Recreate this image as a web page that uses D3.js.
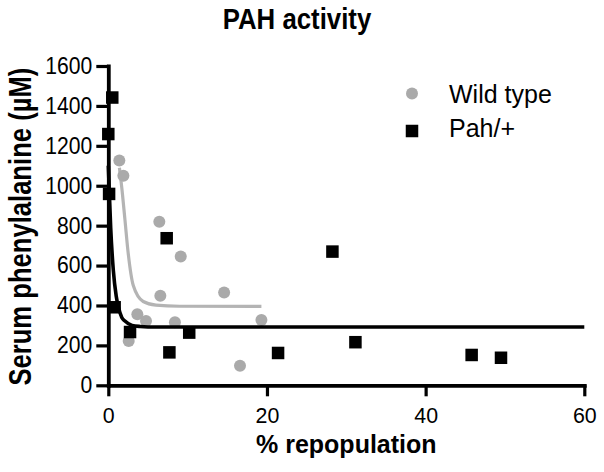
<!DOCTYPE html>
<html>
<head>
<meta charset="utf-8">
<script src="https://cdn.jsdelivr.net/npm/d3@7"></script>
<style>
  html, body { margin: 0; padding: 0; background: #fff; }
  svg { display: block; }
  text { font-family: "Liberation Sans", Arial, Helvetica, sans-serif; fill: #000; }
</style>
</head>
<body>
<svg id="chart" width="604" height="472"></svg>
<script>
// ---- data ----
const title = "PAH activity";
const xLabel = "% repopulation";
const yLabel = "Serum phenylalanine (\u00B5M)";
const seriesNames = ["Wild type", "Pah/+"];

const xTicks = [0, 20, 40, 60];
const yTicks = [0, 200, 400, 600, 800, 1000, 1200, 1400, 1600];

// Wild type (grey circles): % repopulation
const wtX = [1.39, 1.9, 6.43, 9.13, 6.56, 14.6, 3.66, 4.75, 8.4, 19.3, 2.57, 16.6];
// Wild type: serum phenylalanine (µM)
const wtY = [1126, 1050, 819, 645, 449, 465, 356, 322, 316, 327, 222, 98];

// Pah/+ (black squares)
const hetX = [0.5, 0.0, 0.1, 0.8, 2.74, 7.36, 7.7, 10.2, 21.4, 28.25, 31.15, 45.8, 49.5];
const hetY = [1442, 1259, 959, 391, 267, 737, 165, 264, 162, 670, 216, 152, 138];

// Fitted curves
const wtFitX = [1.4, 1.7, 2.1, 2.5, 3.15, 4.4, 6, 9, 19.3];
const wtFitY = [1090, 990, 829, 665, 500, 420, 402, 396, 395];
const hetFitX = [0, 0.3, 0.63, 1.0, 1.26, 1.7, 2.1, 3, 4, 6, 60];
const hetFitY = [1100, 790, 577, 446, 394, 340, 322, 300, 295, 292, 292];

// ---- drawing ----
const svg = d3.select("#chart");
const x = d3.scaleLinear().domain([0, 60]).range([108.3, 584.3]);
const y = d3.scaleLinear().domain([0, 1600]).range([385.3, 66]);

const grey = "#aaaaaa";
const greyLine = "#b4b4b4";

// axes
const xAxis = svg.append("g")
  .attr("transform", `translate(0,${y(0)})`)
  .call(d3.axisBottom(x).tickValues(xTicks).tickSize(11).tickSizeOuter(0).tickPadding(10)
        .tickFormat(d3.format("d")));
const yAxis = svg.append("g")
  .attr("transform", `translate(${x(0)},0)`)
  .call(d3.axisLeft(y).tickValues(yTicks).tickSize(12).tickSizeOuter(0).tickPadding(4)
        .tickFormat(d3.format("d")));

[xAxis, yAxis].forEach(g => {
  g.select(".domain").attr("stroke", "#000").attr("stroke-width", 3.8).attr("stroke-linecap", "square");
  g.selectAll(".tick line").attr("stroke", "#000").attr("stroke-width", 3.2);
  g.selectAll(".tick text").style("font-size", "23px").style("font-family", '"Liberation Sans", Arial, sans-serif').attr("fill", "#000");
});
xAxis.selectAll(".tick text").attr("dy", "0.71em").attr("transform", "scale(0.93,1)");
yAxis.selectAll(".tick text").attr("x", -17.5).attr("transform", "scale(0.92,1)");

// grey fit curve
const line = d3.line().x(d => x(d[0])).y(d => y(d[1])).curve(d3.curveMonotoneX);
svg.append("path")
  .datum(wtFitX.map((v, i) => [v, wtFitY[i]]))
  .attr("d", line)
  .attr("fill", "none").attr("stroke", greyLine).attr("stroke-width", 3.2);

// grey circles
svg.append("g").selectAll("circle")
  .data(wtX.map((v, i) => [v, wtY[i]]))
  .join("circle")
  .attr("cx", d => x(d[0])).attr("cy", d => y(d[1])).attr("r", 6)
  .attr("fill", grey);

// black fit curve
svg.append("path")
  .datum(hetFitX.map((v, i) => [v, hetFitY[i]]))
  .attr("d", line)
  .attr("fill", "none").attr("stroke", "#000").attr("stroke-width", 3.6);

// black squares
const sq = 12.5;
svg.append("g").selectAll("rect")
  .data(hetX.map((v, i) => [v, hetY[i]]))
  .join("rect")
  .attr("x", d => x(d[0]) - sq / 2).attr("y", d => y(d[1]) - sq / 2)
  .attr("width", sq).attr("height", sq)
  .attr("fill", "#000");

// title
svg.append("text")
  .attr("transform", "translate(297,28.5) scale(0.86,1)")
  .attr("text-anchor", "middle")
  .style("font-size", "30px").style("font-weight", "bold")
  .text(title);

// x label
svg.append("text")
  .attr("x", (x(0) + x(60)) / 2).attr("y", 453)
  .attr("text-anchor", "middle")
  .style("font-size", "25px").style("font-weight", "bold")
  .text(xLabel);

// y label
svg.append("text")
  .attr("transform", `translate(31,${(y(0) + y(1600)) / 2 + 1}) rotate(-90) scale(0.84,1)`)
  .attr("text-anchor", "middle")
  .style("font-size", "30.5px").style("font-weight", "bold")
  .text(yLabel);

// legend
const leg = svg.append("g");
leg.append("circle").attr("cx", 412).attr("cy", 93.5).attr("r", 6).attr("fill", grey);
leg.append("rect").attr("x", 412 - sq / 2).attr("y", 131 - sq / 2).attr("width", sq).attr("height", sq).attr("fill", "#000");
leg.selectAll("text.lg")
  .data(seriesNames)
  .join("text")
  .attr("class", "lg")
  .attr("x", 449).attr("y", (d, i) => 103 + i * 34)
  .style("font-size", "25px")
  .text(d => d);
</script>
</body>
</html>
